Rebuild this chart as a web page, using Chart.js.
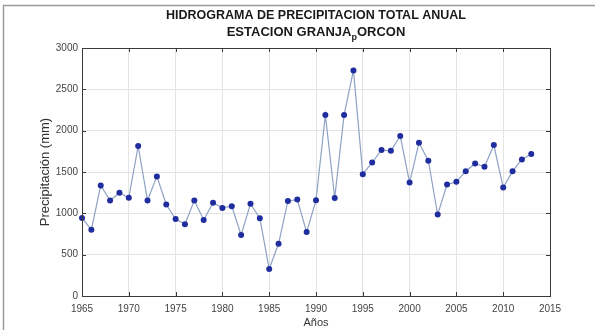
<!DOCTYPE html>
<html>
<head>
<meta charset="utf-8">
<script src="https://cdn.jsdelivr.net/npm/chart.js@4"></script>
<style>
  html, body { margin: 0; padding: 0; background: #fff; }
  #wrap { width: 595px; height: 330px; position: relative; }
</style>
</head>
<body>
<div id="wrap"><canvas id="c" width="595" height="330"></canvas></div>
<script>
// Annual total precipitation, Granja Porcón station (mm)
const years = [
  1965, 1966, 1967, 1968, 1969, 1970, 1971, 1972, 1973, 1974,
  1975, 1976, 1977, 1978, 1979, 1980, 1981, 1982, 1983, 1984,
  1985, 1986, 1987, 1988, 1989, 1990, 1991, 1992, 1993, 1994,
  1995, 1996, 1997, 1998, 1999, 2000, 2001, 2002, 2003, 2004,
  2005, 2006, 2007, 2008, 2009, 2010, 2011, 2012, 2013
];
const precipitation = [
  945, 800, 1338, 1155, 1249, 1188, 1816, 1155, 1447, 1107,
  932, 868, 1155, 920, 1127, 1066, 1086, 738, 1115, 941,
  328, 632, 1150, 1166, 773, 1158, 2190, 1186, 2190, 2729,
  1474, 1615, 1765, 1757, 1935, 1372, 1854, 1636, 986, 1348,
  1381, 1510, 1603, 1563, 1826, 1312, 1510, 1652, 1717
];
const xTicks = [1965, 1970, 1975, 1980, 1985, 1990, 1995, 2000, 2005, 2010, 2015];
const yTicks = [0, 500, 1000, 1500, 2000, 2500, 3000];

const titleLine1 = 'HIDROGRAMA DE PRECIPITACION TOTAL ANUAL';
const titleLine2 = ['ESTACION GRANJA', 'p', 'ORCON'];
const xLabel = 'Años';
const yLabel = 'Precipitación (mm)';

const points = years.map((y, i) => ({ x: y, y: precipitation[i] }));
const FONT = '"Liberation Sans", Arial, Helvetica, sans-serif';

// Figure frame, axes box, inward ticks, titles and axis labels
const decorations = {
  id: 'decorations',
  beforeDraw(chart) {
    const ctx = chart.ctx;
    ctx.save();
    ctx.fillStyle = '#ffffff';
    ctx.fillRect(0, 0, chart.width, chart.height);
    ctx.strokeStyle = '#9a9a9a';
    ctx.lineWidth = 1.5;
    ctx.beginPath();
    ctx.moveTo(3.5, chart.height);
    ctx.lineTo(3.5, 5.5);
    ctx.lineTo(chart.width, 5.5);
    ctx.stroke();
    ctx.restore();
  },
  afterDraw(chart) {
    const ctx = chart.ctx;
    const a = chart.chartArea;
    const xs = chart.scales.x, ys = chart.scales.y;
    ctx.save();
    ctx.strokeStyle = '#3a3a3a';
    ctx.lineWidth = 1;
    ctx.strokeRect(Math.round(a.left) + 0.5, Math.round(a.top) + 0.5,
                   Math.round(a.right - a.left), Math.round(a.bottom - a.top));
    const tl = 4;
    ctx.beginPath();
    xTicks.forEach(v => {
      const px = Math.round(xs.getPixelForValue(v)) + 0.5;
      ctx.moveTo(px, a.bottom); ctx.lineTo(px, a.bottom - tl);
      ctx.moveTo(px, a.top); ctx.lineTo(px, a.top + tl);
    });
    yTicks.forEach(v => {
      const py = Math.round(ys.getPixelForValue(v)) + 0.5;
      ctx.moveTo(a.left, py); ctx.lineTo(a.left + tl, py);
      ctx.moveTo(a.right, py); ctx.lineTo(a.right - tl, py);
    });
    ctx.stroke();

    const cx = (a.left + a.right) / 2;
    ctx.fillStyle = '#1a1a1a';
    ctx.textBaseline = 'middle';
    ctx.font = 'bold 12.5px ' + FONT;
    ctx.textAlign = 'center';
    ctx.fillText(titleLine1, cx, 16);

    // second title line with a subscript letter
    const big = 'bold 13px ' + FONT, small = 'bold 9px ' + FONT;
    ctx.font = big;
    const w0 = ctx.measureText(titleLine2[0]).width;
    const w2 = ctx.measureText(titleLine2[2]).width;
    ctx.font = small;
    const w1 = ctx.measureText(titleLine2[1]).width;
    let x0 = cx - (w0 + w1 + w2) / 2;
    ctx.textAlign = 'left';
    ctx.font = big;
    ctx.fillText(titleLine2[0], x0, 32);
    ctx.font = small;
    ctx.fillText(titleLine2[1], x0 + w0, 38);
    ctx.font = big;
    ctx.fillText(titleLine2[2], x0 + w0 + w1, 32);

    ctx.fillStyle = '#333333';
    ctx.font = '11px ' + FONT;
    ctx.textAlign = 'center';
    ctx.fillText(xLabel, cx, 323);
    ctx.font = '13px ' + FONT;
    ctx.save();
    ctx.translate(45, (a.top + a.bottom) / 2);
    ctx.rotate(-Math.PI / 2);
    ctx.fillText(yLabel, 0, 0);
    ctx.restore();
    ctx.restore();
  }
};

new Chart(document.getElementById('c'), {
  type: 'line',
  data: {
    datasets: [{
      data: points,
      borderColor: '#8ea2c4',
      borderWidth: 1.2,
      pointBackgroundColor: '#1f2d9e',
      pointBorderColor: '#1f2d9e',
      pointRadius: 3,
      pointBorderWidth: 0,
      tension: 0,
      fill: false,
      clip: false
    }]
  },
  options: {
    responsive: false,
    animation: false,
    devicePixelRatio: 1,
    layout: { padding: { left: 0, right: 45, top: 48, bottom: 0 } },
    plugins: { legend: { display: false }, tooltip: { enabled: false }, title: { display: false } },
    scales: {
      x: {
        type: 'linear',
        min: 1965, max: 2015,
        afterFit(s) { s.height = 34; },
        afterBuildTicks(s) { s.ticks = xTicks.map(v => ({ value: v })); },
        grid: { color: '#e4e4e4', lineWidth: 1, drawTicks: false },
        border: { display: false },
        ticks: {
          color: '#444444', font: { family: FONT, size: 10 }, padding: 7,
          maxRotation: 0, autoSkip: false,
          callback: v => String(v)
        }
      },
      y: {
        min: 0, max: 3000,
        afterFit(s) { s.width = 82; },
        afterBuildTicks(s) { s.ticks = yTicks.map(v => ({ value: v })); },
        grid: { color: '#e4e4e4', lineWidth: 1, drawTicks: false },
        border: { display: false },
        ticks: {
          color: '#444444', font: { family: FONT, size: 10 }, padding: 4,
          autoSkip: false,
          callback: v => String(v)
        }
      }
    }
  },
  plugins: [decorations]
});
</script>
</body>
</html>
